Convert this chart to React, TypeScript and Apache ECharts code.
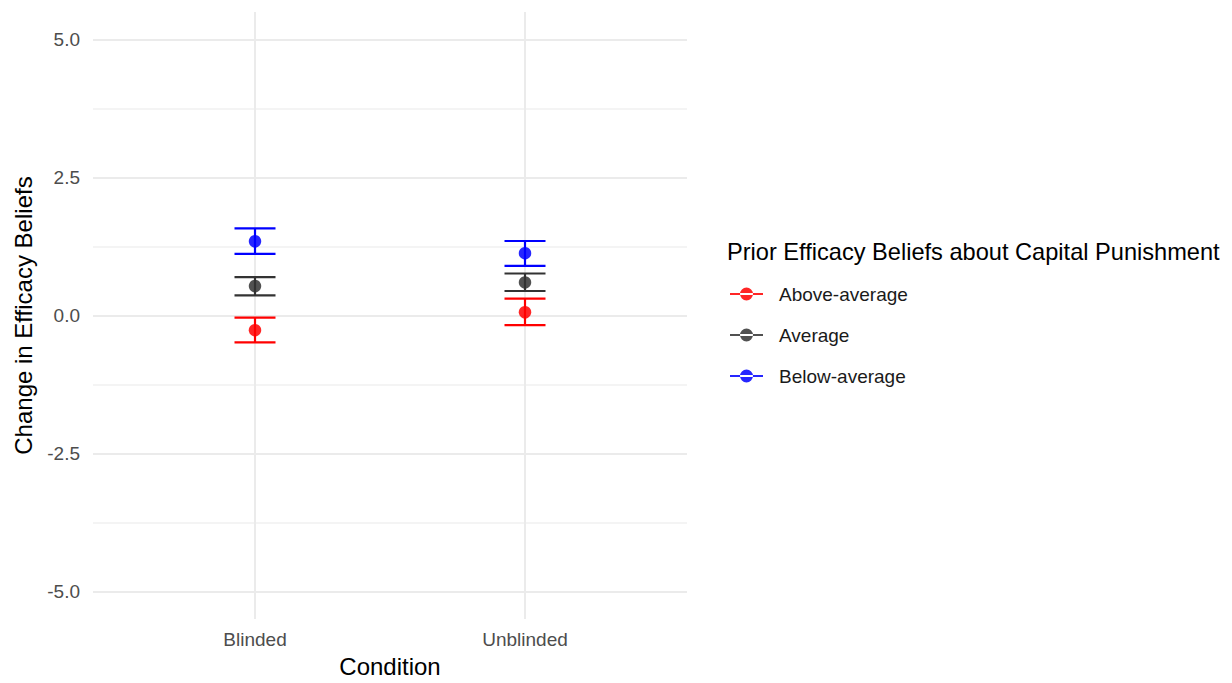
import React, { useEffect, useRef } from "react";
import * as echarts from "echarts";

const conditions = ["Blinded", "Unblinded"];
const groups = ["Above-average", "Average", "Below-average"];
const groupColors = ["#FF0000", "#333333", "#0000FF"];

// mean change per group, per condition (Blinded, Unblinded)
const meanAbove = [-0.265, 0.06];
const meanAverage = [0.535, 0.6];
const meanBelow = [1.346, 1.13];
const lowerAbove = [-0.486, -0.175];
const upperAbove = [-0.036, 0.306];
const lowerAverage = [0.366, 0.445];
const upperAverage = [0.697, 0.762];
const lowerBelow = [1.117, 0.901];
const upperBelow = [1.58, 1.351];

const yMajorTicks = [-5, -2.5, 0, 2.5, 5];
const yMinorTicks = [-3.75, -1.25, 1.25, 3.75];
const xTicks = [1, 2];

const means = [meanAbove, meanAverage, meanBelow];
const lowers = [lowerAbove, lowerAverage, lowerBelow];
const uppers = [upperAbove, upperAverage, upperBelow];

const FONT = "'Liberation Sans', Arial, Helvetica, sans-serif";
const legendIcon =
  "path://M0,5H33V7H0Z M10,6A6.5,6.5,0,1,0,23,6A6.5,6.5,0,1,0,10,6Z";

export default function App() {
  const ref = useRef<HTMLDivElement>(null);

  useEffect(() => {
    if (!ref.current) return;
    const chart = echarts.init(ref.current, undefined, { renderer: "svg" });

    const series: any[] = [];
    groups.forEach((g, gi) => {
      const color = groupColors[gi];
      series.push({
        name: g,
        type: "scatter",
        z: 5,
        symbol: "circle",
        symbolSize: 12.5,
        itemStyle: { color, opacity: 0.85 },
        data: conditions.map((_, ci) => [xTicks[ci], means[gi][ci]]),
      });
      series.push({
        name: g,
        type: "custom",
        z: 3,
        itemStyle: { color },
        encode: { x: 0, y: [1, 2] },
        data: conditions.map((_, ci) => [xTicks[ci], lowers[gi][ci], uppers[gi][ci]]),
        renderItem: (params: any, api: any) => {
          const x = api.value(0);
          const pLo = api.coord([x, api.value(1)]);
          const pHi = api.coord([x, api.value(2)]);
          const half = 20.5;
          const style = { stroke: color, lineWidth: 2.2, fill: null };
          return {
            type: "group",
            children: [
              { type: "line", shape: { x1: pLo[0], y1: pLo[1], x2: pHi[0], y2: pHi[1] }, style },
              { type: "line", shape: { x1: pLo[0] - half, y1: pLo[1], x2: pLo[0] + half, y2: pLo[1] }, style },
              { type: "line", shape: { x1: pHi[0] - half, y1: pHi[1], x2: pHi[0] + half, y2: pHi[1] }, style },
            ],
          };
        },
      });
    });

    chart.setOption({
      animation: false,
      backgroundColor: "#FFFFFF",
      textStyle: { fontFamily: FONT },
      title: {
        text: "Prior Efficacy Beliefs about Capital Punishment",
        left: 727,
        top: 239,
        padding: 0,
        textStyle: { fontFamily: FONT, fontSize: 23.6, fontWeight: "normal", color: "#000000", lineHeight: 26 },
      },
      legend: {
        orient: "vertical",
        left: 730,
        top: 284,
        padding: 0,
        itemWidth: 33,
        itemHeight: 13,
        itemGap: 21,
        data: groups.map((g) => ({ name: g, icon: legendIcon })),
        textStyle: { fontFamily: FONT, fontSize: 19, color: "#1A1A1A", lineHeight: 20, padding: [0, 0, 0, 11] },
        selectedMode: false,
      },
      grid: { left: 93, right: 545, top: 12, bottom: 60 },
      xAxis: {
        type: "value",
        min: 0.4,
        max: 2.6,
        name: "Condition",
        nameLocation: "middle",
        nameGap: 34,
        nameTextStyle: { fontFamily: FONT, fontSize: 24, color: "#000000" },
        axisLine: { show: false },
        axisTick: { show: false, customValues: xTicks },
        axisLabel: {
          customValues: xTicks,
          margin: 11,
          fontSize: 19,
          color: "#4D4D4D",
          fontFamily: FONT,
          formatter: (v: number) => conditions[Math.round(v) - 1] ?? "",
        },
        splitLine: { show: true, lineStyle: { color: "#EBEBEB", width: 2 } },
      },
      yAxis: [
        {
          type: "value",
          min: -5.5,
          max: 5.5,
          name: "Change in Efficacy Beliefs",
          nameLocation: "middle",
          nameGap: 58,
          nameTextStyle: { fontFamily: FONT, fontSize: 24, color: "#000000" },
          axisLine: { show: false },
          axisTick: { show: false, customValues: yMajorTicks },
          axisLabel: {
            customValues: yMajorTicks,
            margin: 13,
            fontSize: 19,
            color: "#4D4D4D",
            fontFamily: FONT,
            formatter: (v: number) => v.toFixed(1),
          },
          splitLine: { show: true, lineStyle: { color: "#EBEBEB", width: 2 } },
        },
        {
          type: "value",
          min: -5.5,
          max: 5.5,
          position: "left",
          axisLine: { show: false },
          axisTick: { show: false, customValues: yMinorTicks },
          axisLabel: { show: false },
          splitLine: { show: true, lineStyle: { color: "#F0F0F0", width: 1.5 } },
        },
      ],
      series,
    });

    return () => chart.dispose();
  }, []);

  return (
    <div
      ref={ref}
      style={{ position: "fixed", left: 0, top: 0, width: 1232, height: 683 }}
    />
  );
}
